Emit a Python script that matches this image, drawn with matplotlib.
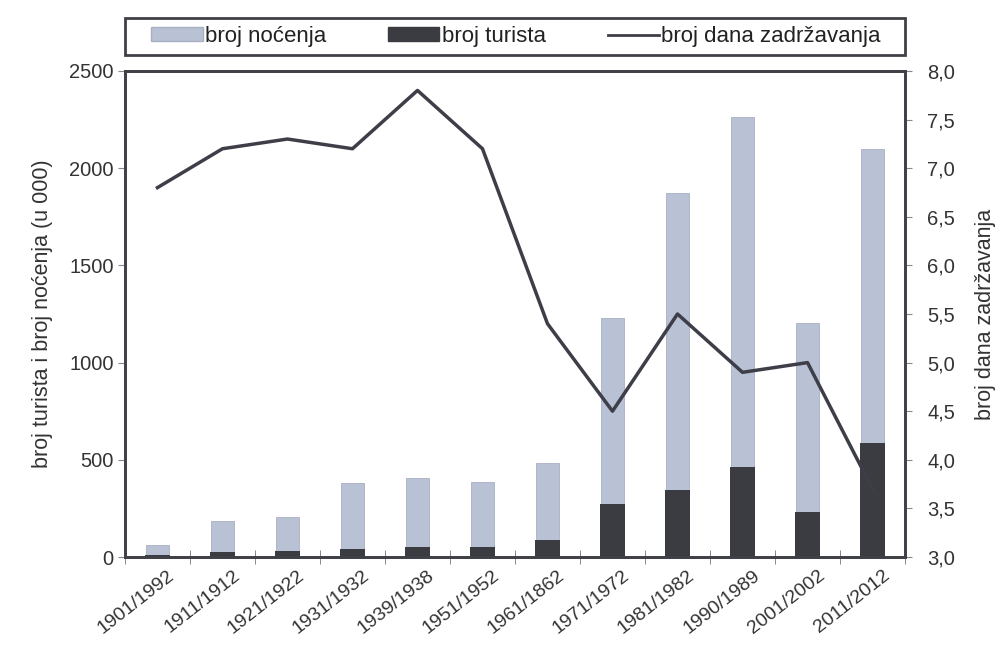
import numpy as np
import matplotlib.pyplot as plt
import matplotlib.transforms as mtransforms
from matplotlib.patches import Patch, Rectangle
from matplotlib.lines import Line2D

plt.rcParams['font.family'] = ['Liberation Sans', 'DejaVu Sans']

# podaci
godine = ['1901/1992', '1911/1912', '1921/1922', '1931/1932', '1939/1938', '1951/1952',
          '1961/1862', '1971/1972', '1981/1982', '1990/1989', '2001/2002', '2011/2012']
nocenja = [60, 187, 207, 380, 408, 386, 485, 1229, 1870, 2265, 1205, 2100]
turisti = [10, 27, 30, 40, 53, 53, 87, 272, 345, 465, 230, 585]
dani = [6.8, 7.2, 7.3, 7.2, 7.8, 7.2, 5.4, 4.5, 5.5, 4.9, 5.0, 3.7]

svijetla = '#b9c1d5'
tamna = '#3b3b42'
okvir = '#404048'

fig = plt.figure(figsize=(10.03, 6.69), dpi=100)
ax = fig.add_axes([0.1246, 0.1674, 0.7777, 0.7265])
ax2 = ax.twinx()

x = np.arange(len(godine))
ax.bar(x, nocenja, width=0.35, color=svijetla, edgecolor='#a9b0c2', linewidth=0.6, zorder=2)
ax.bar(x, turisti, width=0.37, color=tamna, zorder=3)
ax2.plot(x, dani, color='#3e3e48', linewidth=2.5, zorder=4)

ax.set_zorder(1)
ax2.set_zorder(2)
ax2.patch.set_visible(False)

ax.set_xlim(-0.5, len(godine) - 0.5)
ax.set_ylim(0, 2500)
ax.set_yticks([0, 500, 1000, 1500, 2000, 2500])
ax2.set_ylim(3.0, 8.0)
ax2.set_yticks(np.arange(3.0, 8.01, 0.5))
ax2.set_yticklabels([f'{v:.1f}'.replace('.', ',') for v in np.arange(3.0, 8.01, 0.5)])

# x oznake između kategorija
ax.set_xticks(x)
ax.set_xticklabels(godine, rotation=38, ha='right', rotation_mode='anchor', fontsize=14, color='#333333')
ax.tick_params(axis='x', length=0, pad=7)
pomak = mtransforms.ScaledTranslation(0.1, 0, fig.dpi_scale_trans)
for lbl in ax.get_xticklabels():
    lbl.set_transform(lbl.get_transform() + pomak)
ax.set_xticks(np.arange(-0.5, len(godine) + 0.5, 1), minor=True)
ax.tick_params(axis='x', which='minor', length=10, color='#777777', direction='inout')

ax.tick_params(axis='y', labelsize=14.5, colors='#333333', length=5, color='#888888', pad=3)
ax2.tick_params(axis='y', labelsize=14.5, colors='#333333', length=5, color='#888888', pad=11)

for a in (ax, ax2):
    for s in a.spines.values():
        s.set_color(okvir)
        s.set_linewidth(2)

ax.set_ylabel('broj turista i broj noćenja (u 000)', fontsize=15.5, color='#333333', labelpad=12)
ax2.set_ylabel('broj dana zadržavanja', fontsize=15.5, color='#333333', labelpad=14)

# legenda iznad grafikona, okvir posebno
ax.add_patch(Rectangle((0, 1.033), 1, 0.076, transform=ax.transAxes, fill=False,
                       edgecolor=okvir, linewidth=2, clip_on=False))
elementi = [Patch(facecolor=svijetla, edgecolor='#a9b0c2', label='broj noćenja'),
            Patch(facecolor=tamna, edgecolor=tamna, label='broj turista'),
            Line2D([0], [0], color='#3e3e48', linewidth=2, label='broj dana zadržavanja')]
leg = ax.legend(handles=elementi, loc='center', bbox_to_anchor=(0.034, 1.033, 0.935, 0.076),
                mode='expand', ncol=3, fontsize=16, frameon=False,
                borderaxespad=0, borderpad=0, handlelength=2.3, handleheight=0.6,
                handletextpad=0.12, columnspacing=2)
for t in leg.get_texts():
    t.set_color('#222222')

fig.savefig('out.png', dpi=100)
